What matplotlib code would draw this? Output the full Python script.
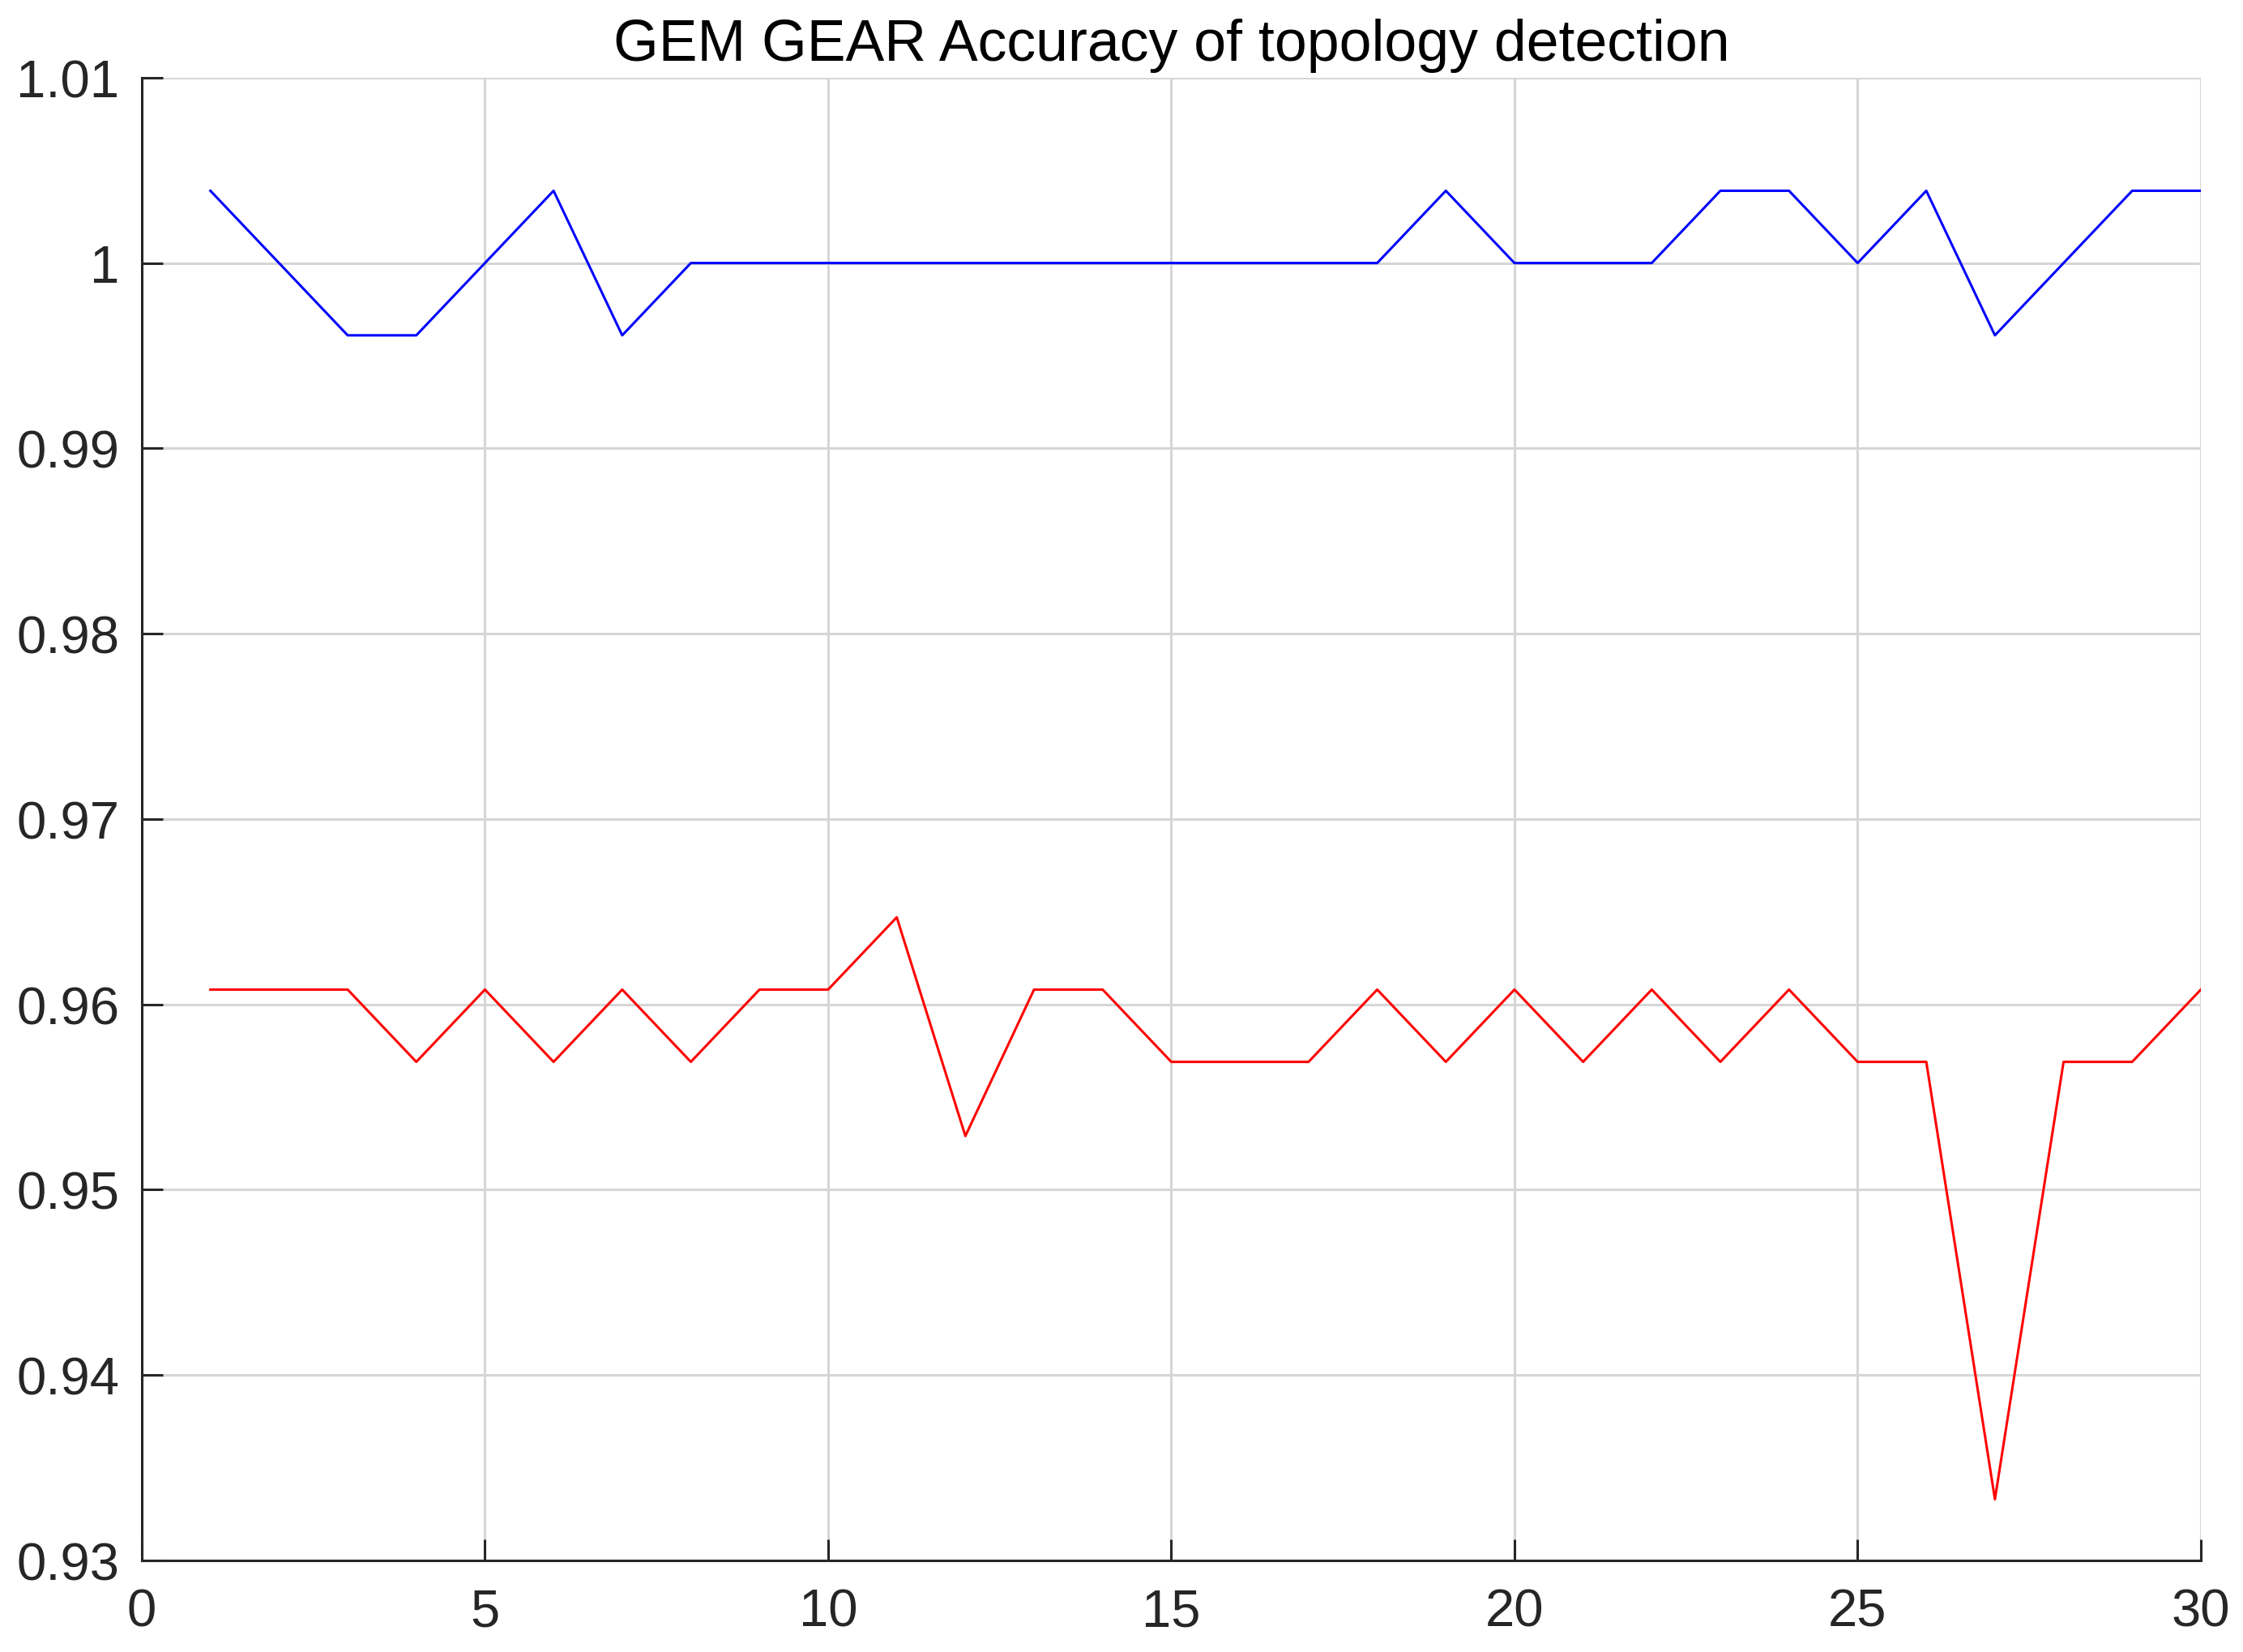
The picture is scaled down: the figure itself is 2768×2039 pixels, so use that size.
import numpy as np
import matplotlib
matplotlib.use('Agg')
import matplotlib.pyplot as plt

plt.rcParams['font.family'] = ['Liberation Sans', 'DejaVu Sans']

# data (steps of 1/255)
runs = np.arange(1, 31)
gear_acc = [1.0039, 1.0, 0.9961, 0.9961, 1.0, 1.0039, 0.9961, 1.0, 1.0, 1.0,
            1.0, 1.0, 1.0, 1.0, 1.0, 1.0, 1.0, 1.0, 1.0039, 1.0,
            1.0, 1.0, 1.0039, 1.0039, 1.0, 1.0039, 0.9961, 1.0, 1.0039, 1.0039]
gem_acc = [0.9608, 0.9608, 0.9608, 0.9569, 0.9608, 0.9569, 0.9608, 0.9569, 0.9608, 0.9608,
           0.9647, 0.9529, 0.9608, 0.9608, 0.9569, 0.9569, 0.9569, 0.9608, 0.9569, 0.9608,
           0.9569, 0.9608, 0.9569, 0.9608, 0.9569, 0.9569, 0.9333, 0.9569, 0.9569, 0.9608]

xticks = [0, 5, 10, 15, 20, 25, 30]
yticks = [0.93, 0.94, 0.95, 0.96, 0.97, 0.98, 0.99, 1.0, 1.01]
yticklabels = ['0.93', '0.94', '0.95', '0.96', '0.97', '0.98', '0.99', '1', '1.01']

fig = plt.figure(figsize=(13.84, 10.2), dpi=200)
ax = fig.add_axes([0.0632, 0.0554, 0.918, 0.8971])

ax.plot(runs, gear_acc, color='blue', lw=1.1)
ax.plot(runs, gem_acc, color='red', lw=1.1)

ax.set_xlim(0, 30)
ax.set_ylim(0.93, 1.01)
ax.set_xticks(xticks)
ax.set_yticks(yticks)
ax.set_yticklabels(yticklabels)

ax.grid(True, color='#d6d6d6', lw=1.1)
ax.set_axisbelow(True)
for s in ['top', 'right']:
    ax.spines[s].set_visible(False)
for s in ['left', 'bottom']:
    ax.spines[s].set_color('#262626')
    ax.spines[s].set_linewidth(1.1)

ax.tick_params(direction='in', length=9.5, width=1.1, color='#262626',
               labelcolor='#262626', labelsize=23.5)
ax.tick_params(axis='x', pad=12)
ax.tick_params(axis='y', pad=10)

ax.set_title('GEM GEAR Accuracy of topology detection', fontsize=25.8, pad=8, color='black')

fig.savefig('out.png', dpi=200)
